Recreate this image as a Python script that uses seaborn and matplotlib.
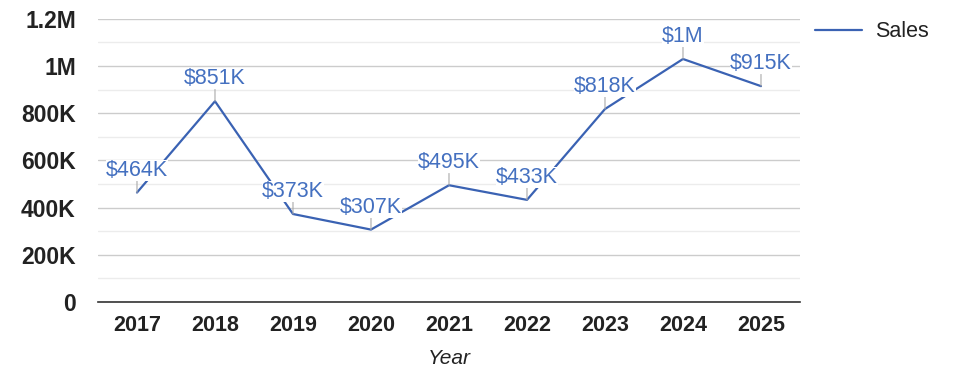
import matplotlib
matplotlib.use("Agg")
import matplotlib.pyplot as plt
import seaborn as sns
import pandas as pd
from matplotlib.ticker import MultipleLocator, FuncFormatter

# --- data ---
YEARS = [2017, 2018, 2019, 2020, 2021, 2022, 2023, 2024, 2025]
SALES = [464000, 851000, 373000, 307000, 495000, 433000, 818000, 1030000, 915000]
LABELS = ["$464K", "$851K", "$373K", "$307K", "$495K", "$433K", "$818K", "$1M", "$915K"]

LINE_COLOR = "#3a62b3"
LABEL_COLOR = "#4470c0"

sns.set_theme(style="white")
plt.rcParams['font.family'] = ['Liberation Sans', 'DejaVu Sans']

df = pd.DataFrame({"Year": YEARS, "Sales": SALES})

fig = plt.figure(figsize=(9.75, 3.78), dpi=100)
ax = fig.add_axes([0.1005, 0.201, 0.72, 0.749])

sns.lineplot(data=df, x="Year", y="Sales", color=LINE_COLOR, linewidth=1.6,
             ax=ax, label="Sales", legend=False)

for x, y, lab in zip(YEARS, SALES, LABELS):
    ax.annotate(lab, xy=(x, y), xytext=(0, 8.5), textcoords="offset points",
                ha="center", va="bottom", fontsize=15.5, color=LABEL_COLOR,
                bbox=dict(boxstyle="square,pad=0.0", fc="white", ec="none"),
                arrowprops=dict(arrowstyle="-", color="#aaaaaa", lw=0.8,
                                shrinkA=0, shrinkB=0),
                zorder=5)

ax.set_xlim(2016.5, 2025.5)
ax.set_ylim(0, 1200000)
ax.set_xticks(YEARS)
ax.set_xticklabels([str(y) for y in YEARS])
ax.yaxis.set_major_locator(MultipleLocator(200000))
ax.yaxis.set_minor_locator(MultipleLocator(100000))


def fmt(v, _):
    if v == 0:
        return "0"
    if v >= 1000000:
        s = f"{v / 1000000:.1f}".rstrip("0").rstrip(".")
        return s + "M"
    return f"{int(v / 1000)}K"


ax.yaxis.set_major_formatter(FuncFormatter(fmt))
ax.grid(which="major", axis="y", color="#cccccc", lw=1)
ax.grid(which="minor", axis="y", color="#ececec", lw=1)
ax.grid(axis="x", visible=False)
ax.set_axisbelow(True)

for s in ["left", "right", "top"]:
    ax.spines[s].set_visible(False)
ax.spines["bottom"].set_color("#333333")
ax.spines["bottom"].set_linewidth(1.2)

ax.tick_params(axis="both", length=0, labelcolor="#222222")
ax.tick_params(axis="y", pad=16, labelsize=16.5)
ax.tick_params(axis="x", pad=9, labelsize=15.5)
for t in ax.get_xticklabels() + ax.get_yticklabels():
    t.set_fontweight("bold")

ax.set_ylabel("")
ax.set_xlabel("Year", fontsize=15, fontstyle="italic", color="#222222", labelpad=10)

leg = fig.legend(handles=ax.get_lines()[:1], labels=["Sales"], loc="upper left",
                 bbox_to_anchor=(0.816, 0.995), frameon=False, fontsize=15.5,
                 handlelength=2.2, handletextpad=0.6)
for t in leg.get_texts():
    t.set_color("#222222")

fig.savefig("out.png", dpi=100)
